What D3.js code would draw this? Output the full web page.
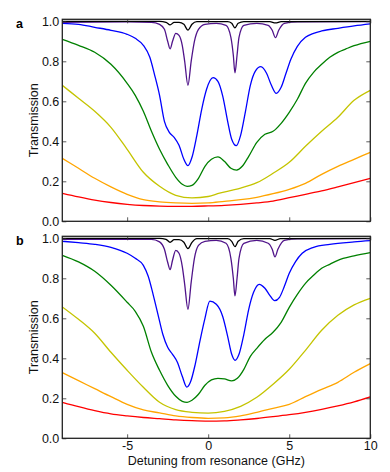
<!DOCTYPE html>
<html>
<head>
<meta charset="utf-8">
<script src="https://cdn.jsdelivr.net/npm/d3@7"></script>
<style>
  body { margin: 0; background: #fff; }
  text { font-family: "Liberation Sans", Arial, sans-serif; }
</style>
</head>
<body>
<div id="chart"></div>
<script>
// curve data: [detuning GHz, transmission]
const blackA = [[-9,1.0],[-3,1.0],[-2.6,0.995],[-2.35,0.982],[-2.1,0.995],[-1.8,0.995],[-1.5,0.985],[-1.25,0.956],[-1.0,0.985],[-0.7,0.998],[1.2,0.998],[1.45,0.99],[1.65,0.967],[1.85,0.99],[2.2,0.998],[3.8,0.998],[4.15,0.992],[4.5,0.998],[10,1.0]];
const purpleA = [[-9,0.995],[-5,0.997],[-3.5,0.995],[-3.0,0.985],[-2.7,0.96],[-2.5,0.9],[-2.35,0.862],[-2.2,0.9],[-2.0,0.94],[-1.8,0.93],[-1.6,0.88],[-1.45,0.8],[-1.25,0.68],[-1.05,0.8],[-0.85,0.9],[-0.6,0.96],[-0.2,0.985],[0.5,0.99],[1.1,0.98],[1.4,0.92],[1.55,0.83],[1.65,0.742],[1.78,0.83],[1.9,0.92],[2.2,0.98],[3.0,0.99],[3.7,0.98],[3.95,0.955],[4.15,0.918],[4.35,0.955],[4.7,0.99],[5.5,0.997],[10,0.998]];
const blueA = [[-9,0.99],[-8,0.985],[-7,0.97],[-6,0.955],[-5,0.935],[-4.5,0.915],[-4,0.88],[-3.6,0.82],[-3.3,0.73],[-3.0,0.63],[-2.7,0.5],[-2.4,0.445],[-2.1,0.42],[-1.8,0.38],[-1.5,0.31],[-1.25,0.278],[-1.0,0.32],[-0.7,0.43],[-0.4,0.56],[-0.1,0.66],[0.3,0.718],[0.6,0.7],[0.9,0.625],[1.2,0.5],[1.45,0.41],[1.73,0.378],[2.0,0.43],[2.3,0.55],[2.6,0.68],[2.9,0.75],[3.25,0.773],[3.6,0.74],[3.9,0.68],[4.2,0.64],[4.5,0.67],[4.8,0.74],[5.1,0.81],[5.5,0.875],[6.0,0.92],[6.5,0.94],[7,0.952],[8,0.965],[9,0.977],[10,0.987]];
const greenA = [[-9,0.91],[-8,0.88],[-7,0.845],[-6,0.785],[-5,0.69],[-4.5,0.63],[-4,0.55],[-3.5,0.45],[-3,0.36],[-2.5,0.285],[-2,0.22],[-1.6,0.185],[-1.3,0.175],[-1,0.18],[-0.6,0.215],[-0.2,0.275],[0.2,0.31],[0.6,0.322],[1.0,0.3],[1.4,0.265],[1.75,0.256],[2.1,0.275],[2.5,0.325],[3.0,0.395],[3.5,0.435],[4.0,0.45],[4.5,0.49],[5.0,0.545],[5.5,0.61],[6,0.69],[6.5,0.745],[7,0.785],[7.5,0.82],[8,0.845],[8.5,0.862],[9,0.878],[10,0.9]];
const yellowA = [[-9,0.68],[-8,0.615],[-7,0.55],[-6,0.47],[-5,0.36],[-4,0.245],[-3,0.175],[-2,0.13],[-1,0.117],[0,0.124],[0.7,0.141],[1.5,0.156],[2,0.166],[3,0.193],[4,0.24],[5,0.295],[6,0.375],[7,0.45],[8,0.52],[9,0.605],[10,0.655]];
const orangeA = [[-9,0.315],[-8,0.265],[-7,0.215],[-6,0.172],[-5,0.135],[-4,0.108],[-3,0.097],[-2,0.092],[-1,0.09],[0,0.092],[1,0.1],[2,0.108],[3,0.12],[4,0.138],[5,0.16],[6,0.19],[7,0.235],[8,0.275],[9,0.31],[10,0.345]];
const redA = [[-9,0.14],[-8,0.122],[-7,0.106],[-6,0.094],[-5,0.085],[-4,0.079],[-3,0.076],[-2,0.075],[-1,0.075],[0,0.077],[1,0.08],[2,0.085],[3,0.092],[4,0.101],[5,0.118],[6,0.135],[7,0.152],[8,0.172],[9,0.193],[10,0.215]];

const blackB = [[-9,1.0],[-3,1.0],[-2.6,0.995],[-2.35,0.98],[-2.1,0.993],[-1.8,0.993],[-1.5,0.98],[-1.25,0.948],[-1.0,0.98],[-0.7,0.998],[1.2,0.998],[1.45,0.985],[1.65,0.958],[1.85,0.985],[2.2,0.998],[3.8,0.998],[4.12,0.99],[4.45,0.998],[10,1.0]];
const purpleB = [[-9,0.995],[-3.5,0.995],[-3.0,0.982],[-2.7,0.945],[-2.5,0.88],[-2.35,0.843],[-2.2,0.89],[-2.0,0.94],[-1.8,0.925],[-1.6,0.86],[-1.45,0.77],[-1.25,0.645],[-1.05,0.78],[-0.85,0.9],[-0.6,0.965],[-0.2,0.985],[0.5,0.99],[1.1,0.975],[1.4,0.9],[1.55,0.8],[1.65,0.712],[1.78,0.8],[1.9,0.9],[2.2,0.975],[3.0,0.99],[3.7,0.975],[3.95,0.945],[4.12,0.907],[4.3,0.945],[4.7,0.99],[5.5,0.997],[10,0.998]];
const blueB = [[-9,0.985],[-8,0.978],[-7,0.97],[-6,0.955],[-5,0.925],[-4.5,0.9],[-4,0.865],[-3.7,0.81],[-3.4,0.72],[-3.1,0.62],[-2.8,0.52],[-2.5,0.455],[-2.2,0.42],[-1.9,0.38],[-1.6,0.31],[-1.32,0.256],[-1.1,0.28],[-0.8,0.37],[-0.5,0.49],[-0.2,0.6],[0.1,0.686],[0.5,0.67],[0.9,0.608],[1.2,0.51],[1.45,0.42],[1.66,0.39],[1.9,0.42],[2.2,0.52],[2.5,0.645],[2.8,0.73],[3.15,0.77],[3.5,0.75],[3.8,0.715],[4.1,0.688],[4.4,0.705],[4.7,0.76],[5.0,0.825],[5.4,0.885],[5.8,0.925],[6.5,0.955],[7.5,0.97],[9,0.982],[10,0.988]];
const greenB = [[-9,0.915],[-8,0.882],[-7,0.835],[-6,0.765],[-5,0.68],[-4.5,0.635],[-4,0.56],[-3.5,0.43],[-3,0.34],[-2.5,0.265],[-2,0.21],[-1.6,0.185],[-1.3,0.18],[-1.0,0.19],[-0.6,0.22],[-0.2,0.265],[0.2,0.292],[0.6,0.3],[1.0,0.297],[1.45,0.287],[1.8,0.3],[2.2,0.345],[2.6,0.41],[3.0,0.45],[3.5,0.495],[4.0,0.53],[4.5,0.58],[5.0,0.655],[5.5,0.72],[6,0.775],[6.5,0.815],[7,0.85],[7.5,0.87],[8,0.89],[9,0.912],[10,0.928]];
const yellowB = [[-9,0.657],[-8,0.595],[-7,0.525],[-6,0.43],[-5,0.34],[-4,0.255],[-3,0.18],[-2,0.143],[-1,0.13],[0,0.126],[1,0.135],[2,0.16],[3,0.205],[4,0.27],[5,0.345],[6,0.44],[7,0.54],[8,0.615],[9,0.667],[10,0.7]];
const orangeB = [[-9,0.328],[-8,0.288],[-7,0.248],[-6,0.208],[-5,0.17],[-4,0.142],[-3,0.127],[-2,0.112],[-1,0.104],[0,0.1],[1,0.102],[2,0.112],[3,0.13],[4,0.15],[5,0.17],[6,0.208],[7,0.245],[8,0.28],[9,0.33],[10,0.373]];
const redB = [[-9,0.18],[-8,0.158],[-7,0.138],[-6,0.122],[-5,0.112],[-4,0.104],[-3,0.098],[-2,0.092],[-1,0.088],[0,0.086],[1,0.087],[2,0.092],[3,0.099],[4,0.108],[5,0.118],[6,0.13],[7,0.145],[8,0.162],[9,0.182],[10,0.207]];

const colors = ["#ff0000", "#ffa500", "#c4c400", "#008000", "#0000ff", "#50148a", "#000000"];
const panels = [
  {label: "a", series: [redA, orangeA, yellowA, greenA, blueA, purpleA, blackA], top: 19.3, bottom: 221.3, xlabels: false},
  {label: "b", series: [redB, orangeB, yellowB, greenB, blueB, purpleB, blackB], top: 236.3, bottom: 438.3, xlabels: true}
];
const xTicks = [-5, 0, 5, 10];
const yTicks = [0, 0.2, 0.4, 0.6, 0.8, 1.0];

const width = 390, height = 472;
const left = 62.3, right = 370.3;
const tickFont = 12.5, labelFont = 12.5;

const svg = d3.select("#chart").append("svg")
  .attr("width", width)
  .attr("height", height);

const x = d3.scaleLinear().domain([-9, 10]).range([left, right]);

panels.forEach((p, pi) => {
  const y = d3.scaleLinear().domain([0, 1.01]).range([p.bottom, p.top]);
  const g = svg.append("g");

  svg.append("defs").append("clipPath")
    .attr("id", "clip" + pi)
    .append("rect")
    .attr("x", left).attr("y", p.top - 1)
    .attr("width", right - left).attr("height", p.bottom - p.top + 1);

  const line = d3.line()
    .x(d => x(d[0]))
    .y(d => y(d[1]))
    .curve(d3.curveMonotoneX);

  const lines = g.append("g").attr("clip-path", "url(#clip" + pi + ")");
  p.series.forEach((s, i) => {
    lines.append("path")
      .datum(s)
      .attr("d", line)
      .attr("fill", "none")
      .attr("stroke", colors[i])
      .attr("stroke-width", 1.3);
  });

  // inward ticks on all four sides
  const tk = 4;
  const bottomAxis = g.append("g").attr("transform", `translate(0,${p.bottom})`)
    .call(d3.axisBottom(x).tickValues(xTicks).tickSizeInner(-tk).tickSizeOuter(0))
    .call(a => a.select(".domain").remove());
  if (p.xlabels) {
    bottomAxis.selectAll("text").attr("dy", null).attr("y", 11.7)
      .attr("font-size", tickFont).attr("font-family", "Liberation Sans, Arial, sans-serif").attr("fill", "#111")
      .text(d => d < 0 ? "-" + Math.abs(d) : d);
  } else {
    bottomAxis.selectAll("text").remove();
  }
  g.append("g").attr("transform", `translate(0,${p.top})`)
    .call(d3.axisTop(x).tickValues(xTicks).tickSizeInner(-tk).tickSizeOuter(0).tickFormat(""))
    .call(a => a.select(".domain").remove());
  g.append("g").attr("transform", `translate(${left},0)`)
    .call(d3.axisLeft(y).tickValues(yTicks).tickSizeInner(-tk).tickSizeOuter(0).tickFormat(d3.format(".1f")))
    .call(a => a.select(".domain").remove())
    .call(a => a.selectAll("text").attr("x", -3)
      .attr("font-size", tickFont).attr("font-family", "Liberation Sans, Arial, sans-serif").attr("fill", "#111"));
  g.append("g").attr("transform", `translate(${right},0)`)
    .call(d3.axisRight(y).tickValues(yTicks).tickSizeInner(-tk).tickSizeOuter(0).tickFormat(""))
    .call(a => a.select(".domain").remove());

  g.selectAll(".tick line").attr("stroke", "#333").attr("stroke-width", 0.8);

  // frame
  g.append("rect")
    .attr("x", left).attr("y", p.top)
    .attr("width", right - left).attr("height", p.bottom - p.top)
    .attr("fill", "none")
    .attr("stroke", "#222")
    .attr("stroke-width", 1.3);

  g.append("text")
    .attr("transform", `translate(38,${(p.top + p.bottom) / 2}) rotate(-90)`)
    .attr("text-anchor", "middle")
    .attr("font-size", labelFont)
    .attr("fill", "#111")
    .text("Transmission");

  g.append("text")
    .attr("x", 16).attr("y", p.top + 9)
    .attr("font-size", 12.5)
    .attr("font-weight", "bold")
    .text(p.label);
});

svg.append("text")
  .attr("x", (left + right) / 2)
  .attr("y", 464.5)
  .attr("text-anchor", "middle")
  .attr("font-size", labelFont)
  .attr("fill", "#111")
  .text("Detuning from resonance (GHz)");
</script>
</body>
</html>
